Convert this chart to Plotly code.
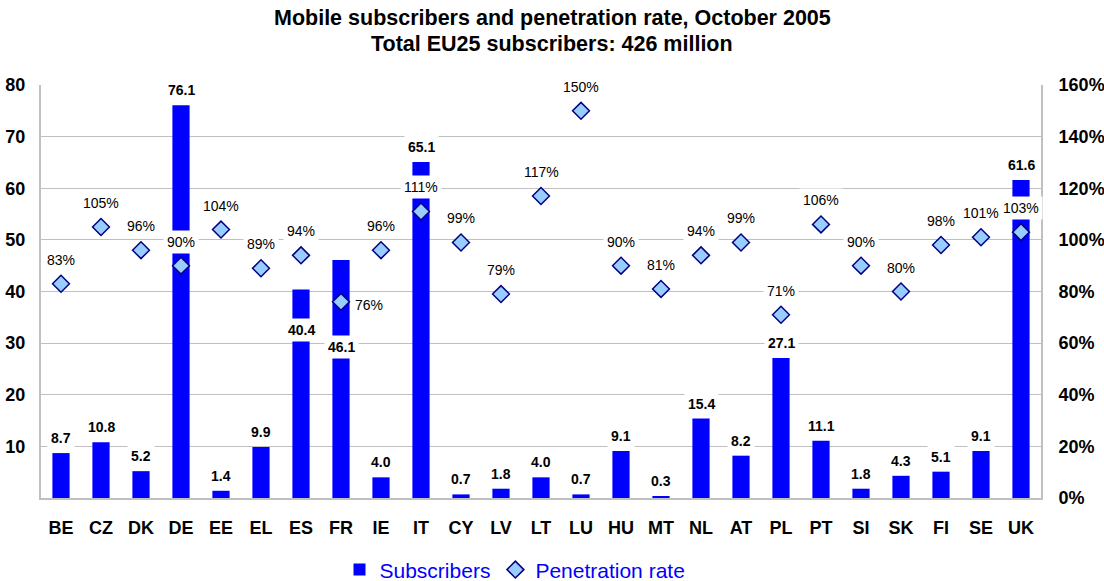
import plotly.graph_objects as go

# Data
countries = ["BE", "CZ", "DK", "DE", "EE", "EL", "ES", "FR", "IE", "IT", "CY", "LV", "LT",
             "LU", "HU", "MT", "NL", "AT", "PL", "PT", "SI", "SK", "FI", "SE", "UK"]
subscribers = [8.7, 10.8, 5.2, 76.1, 1.4, 9.9, 40.4, 46.1, 4.0, 65.1, 0.7, 1.8, 4.0,
               0.7, 9.1, 0.3, 15.4, 8.2, 27.1, 11.1, 1.8, 4.3, 5.1, 9.1, 61.6]
penetration = [83, 105, 96, 90, 104, 89, 94, 76, 96, 111, 99, 79, 117,
               150, 90, 81, 94, 99, 71, 106, 90, 80, 98, 101, 103]
left_ticks = [10, 20, 30, 40, 50, 60, 70, 80]
title_lines = ["Mobile subscribers and penetration rate, October 2005",
               "Total EU25 subscribers: 426 million"]

# labels that were moved by hand in the original (pixel shifts)
sub_label_shift = {"ES": -41, "FR": -87}
pen_label_right = {"FR"}

FONT = "Liberation Sans, Arial, sans-serif"
BLUE = "#0000FF"
GRID = "#C0C0C0"

fig = go.Figure()
fig.add_bar(x=countries, y=subscribers, name="Subscribers", marker_color=BLUE,
            marker_line_width=0, yaxis="y")
fig.add_scatter(x=countries, y=[p / 100 for p in penetration], mode="markers",
                name="Penetration rate", yaxis="y2",
                marker=dict(symbol="diamond", size=13, color="#99CCFF",
                            line=dict(color="#000080", width=1.5)))

annotations = []
for c, v in zip(countries, subscribers):
    annotations.append(dict(x=c, y=v, xref="x", yref="y", text=f"<b>{v:.1f}</b>",
                            showarrow=False, yanchor="middle",
                            yshift=sub_label_shift.get(c, 15),
                            bgcolor="white", borderpad=3,
                            font=dict(size=14, color="black", family=FONT)))
for c, p in zip(countries, penetration):
    if c in pen_label_right:
        pos = dict(xanchor="left", xshift=10, yshift=-3)
    else:
        pos = dict(xanchor="center", yshift=24)
    annotations.append(dict(x=c, y=p / 100, xref="x", yref="y2", text=f"{p}%",
                            showarrow=False, yanchor="middle", bgcolor="white",
                            borderpad=3, font=dict(size=14, color="black", family=FONT),
                            **pos))

# two-line title, placed above the plot area
for line, ty in zip(title_lines, [1.162, 1.099]):
    annotations.append(dict(x=0.511, y=ty, xref="paper", yref="paper", text=f"<b>{line}</b>",
                            showarrow=False, xanchor="center", yanchor="middle",
                            font=dict(size=21.5, color="black", family=FONT)))

fig.update_layout(
    width=1104, height=581,
    margin=dict(l=41, r=63, t=85, b=83),
    plot_bgcolor="white", paper_bgcolor="white",
    font=dict(family=FONT, color="black"),
    bargap=0.57,
    showlegend=True,
    legend=dict(orientation="h", x=0.474, xanchor="center",
                yref="container", y=0.019, yanchor="middle",
                font=dict(size=21, color=BLUE, family=FONT)),
    annotations=annotations,
    xaxis=dict(range=[-0.5, len(countries) - 0.5], showline=True, linecolor=GRID,
               linewidth=2, showgrid=False, automargin=False,
               tickfont=dict(size=18, weight="bold"), ticklabelstandoff=12),
    yaxis=dict(range=[0, 80], tickvals=left_ticks, showgrid=True, gridcolor=GRID,
               showline=True, linecolor=GRID, linewidth=2, zeroline=False, automargin=False,
               tickfont=dict(size=18, weight="bold"), ticklabelstandoff=10),
    yaxis2=dict(range=[0, 1.6], dtick=0.2, tickformat=".0%", overlaying="y",
                side="right", showgrid=False, showline=True, linecolor=GRID,
                linewidth=2, zeroline=False, automargin=False,
                tickfont=dict(size=18, weight="bold"), ticklabelstandoff=12),
)

# drop the browser's default page margin so the figure sits at the window corner
fig.write_html("out.html", config={"displayModeBar": False},
               post_script="document.body.style.margin = '0';")
